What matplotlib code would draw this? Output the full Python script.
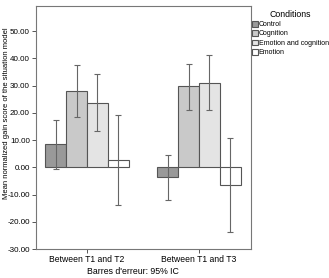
import matplotlib
matplotlib.use("Agg")
import matplotlib.pyplot as plt
import numpy as np

plt.rcParams['font.family'] = ['Liberation Sans', 'DejaVu Sans']

groups = ["Between T1 and T2", "Between T1 and T3"]
conditions = ["Control", "Cognition", "Emotion and cognition", "Emotion"]
means = {
    "Control": [8.4, -3.4],
    "Cognition": [28.1, 29.7],
    "Emotion and cognition": [23.8, 31.1],
    "Emotion": [2.7, -6.5],
}
ci_upper = {
    "Control": [17.5, 4.6],
    "Cognition": [37.5, 38.0],
    "Emotion and cognition": [34.2, 41.3],
    "Emotion": [19.2, 10.6],
}
ci_lower = {
    "Control": [-0.6, -11.8],
    "Cognition": [18.6, 21.2],
    "Emotion and cognition": [13.2, 21.0],
    "Emotion": [-13.9, -23.7],
}
colors = ["#999999", "#c9c9c9", "#e4e4e4", "#ffffff"]
yticks = [50, 40, 30, 20, 10, 0, -10, -20, -30]

fig = plt.figure(figsize=(3.29, 2.78), dpi=100)
ax = fig.add_axes([0.1085, 0.104, 0.6535, 0.874])

x = np.arange(len(groups))
w = 0.186
edge = "#555555"
handles = []
for i, c in enumerate(conditions):
    pos = x + (i - 1.5) * w
    m = np.array(means[c])
    hi = np.array(ci_upper[c])
    lo = np.array(ci_lower[c])
    b = ax.bar(pos, m, width=w, color=colors[i], edgecolor=edge, linewidth=0.8, label=c, zorder=2)
    handles.append(b)
    ax.errorbar(pos, m, yerr=[m - lo, hi - m], fmt="none", ecolor="#666666",
                elinewidth=0.8, capsize=2.5, capthick=0.8, zorder=3)

ax.set_xlim(-0.458, 1.462)
ax.set_ylim(-30, 59.2)
ax.set_yticks(yticks)
ax.set_yticklabels([f"{v:.2f}" for v in yticks], fontsize=5.8)
ax.set_xticks(x)
ax.set_xticklabels(groups, fontsize=6.2)
ax.tick_params(axis="both", length=3, width=0.7, color="#555555", pad=1.2)
for s in ax.spines.values():
    s.set_color("#777777")
    s.set_linewidth(0.8)
ax.set_ylabel("Mean normalized gain score of the situation model", fontsize=5.5, labelpad=1)
ax.yaxis.set_label_coords(-0.138, 0.56)
ax.yaxis.label.set_va("center")
fig.text(0.405, 0.025, "Barres d'erreur: 95% IC", fontsize=6.3, ha="center", va="center")

leg = fig.legend(handles=handles, labels=conditions, loc="upper left",
                 bbox_to_anchor=(0.762, 0.97), frameon=False, fontsize=5.0,
                 title="Conditions", title_fontsize=6.3,
                 handlelength=0.8, handleheight=0.9, handletextpad=0.15,
                 labelspacing=0.3, borderaxespad=0, borderpad=0.2)
leg._legend_box.align = "center"
fig.savefig("out.png", dpi=100)
